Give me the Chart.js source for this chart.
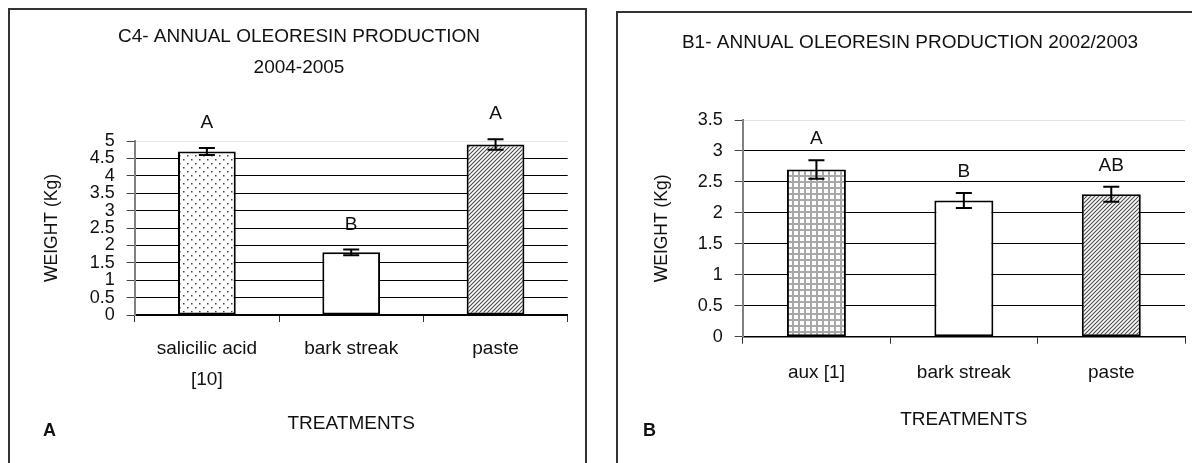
<!DOCTYPE html>
<html><head><meta charset="utf-8">
<script src="https://cdn.jsdelivr.net/npm/chart.js@4"></script>
<style>
html,body{margin:0;padding:0;background:#fff;width:1192px;height:463px;overflow:hidden;font-family:"Liberation Sans",Arial,sans-serif;}
.panel{position:absolute;border:2px solid #333;box-sizing:border-box;}
#pA{left:8px;top:8px;width:579px;height:480px;}
#pB{left:616px;top:11px;width:600px;height:480px;}
canvas{position:absolute;}
#cA{left:10px;top:10px;}
#cB{left:618px;top:13px;}
.lab{position:absolute;font:bold 18px "Liberation Sans",Arial,sans-serif;color:#111;line-height:20px;}
</style></head>
<body>
<div class="panel" id="pA"></div>
<div class="panel" id="pB"></div>
<canvas id="cA" width="574" height="453"></canvas>
<canvas id="cB" width="574" height="450"></canvas>
<div class="lab" style="left:43px;top:420px;">A</div>
<div class="lab" style="left:643px;top:420px;">B</div>
<script>
// ---- Data: panel A (C4, 2004-2005)
const categoriesC4 = [['salicilic acid', '[10]'], 'bark streak', 'paste'];
const valuesC4 = [4.7, 1.8, 4.9];
const errorsC4 = [0.1, 0.08, 0.15];
const lettersC4 = ['A', 'B', 'A'];
const yMaxC4 = 5;
const titleC4 = ['C4- ANNUAL OLEORESIN PRODUCTION', '2004-2005'];

// ---- Data: panel B (B1, 2002/2003)
const categoriesB1 = ['aux [1]', 'bark streak', 'paste'];
const valuesB1 = [2.7, 2.2, 2.3];
const errorsB1 = [0.15, 0.12, 0.12];
const lettersB1 = ['A', 'B', 'AB'];
const yMaxB1 = 3.5;
const titleB1 = 'B1- ANNUAL OLEORESIN PRODUCTION 2002/2003';

const yStep = 0.5;
const yTitle = 'WEIGHT (Kg)';
const xTitle = 'TREATMENTS';

const FAMILY = '"Liberation Sans", Arial, sans-serif';
Chart.defaults.font.family = FAMILY;
Chart.defaults.color = '#111';

function tile(w, h, draw) {
  const c = document.createElement('canvas');
  c.width = w; c.height = h;
  const g = c.getContext('2d');
  g.fillStyle = '#fff'; g.fillRect(0, 0, w, h);
  draw(g);
  return document.createElement('canvas').getContext('2d').createPattern(c, 'repeat');
}
const dots = tile(8, 8, g => { g.fillStyle = '#444'; g.fillRect(1, 1, 1.5, 1.5); g.fillRect(5, 5, 1.5, 1.5); });
const hatch = tile(4, 4, g => {
  g.strokeStyle = '#4a4a4a'; g.lineWidth = 1.1;
  g.beginPath();
  g.moveTo(-1, 5); g.lineTo(5, -1);
  g.moveTo(-1, 1); g.lineTo(1, -1);
  g.moveTo(3, 5); g.lineTo(5, 3);
  g.stroke();
});
const grid = tile(6, 6, g => { g.fillStyle = '#a8a8a8'; g.fillRect(0, 0, 6, 2); g.fillRect(0, 0, 2, 6); });

const errLetters = {
  id: 'errLetters',
  afterDatasetsDraw(chart, args, opts) {
    const ctx = chart.ctx, ys = chart.scales.y;
    const meta = chart.getDatasetMeta(0);
    ctx.save();
    meta.data.forEach((bar, i) => {
      const v = opts.values[i], e = opts.errors[i];
      const yt = ys.getPixelForValue(v + e), yb = ys.getPixelForValue(v - e);
      ctx.strokeStyle = '#000'; ctx.lineWidth = 2;
      ctx.beginPath();
      ctx.moveTo(bar.x, yt); ctx.lineTo(bar.x, yb);
      ctx.moveTo(bar.x - 8, yt); ctx.lineTo(bar.x + 8, yt);
      ctx.moveTo(bar.x - 8, yb); ctx.lineTo(bar.x + 8, yb);
      ctx.stroke();
      ctx.fillStyle = '#111';
      ctx.font = '19px ' + FAMILY;
      ctx.textAlign = 'center'; ctx.textBaseline = 'middle';
      ctx.fillText(opts.letters[i], bar.x, yt - opts.gap);
    });
    ctx.restore();
  }
};

function makeChart(id, L) {
  return new Chart(document.getElementById(id), {
    type: 'bar',
    data: {
      labels: L.categories,
      datasets: [{
        data: L.values,
        backgroundColor: L.fills,
        borderColor: '#000',
        borderWidth: 2,
        borderSkipped: false,
        categoryPercentage: 1,
        barPercentage: 0.4
      }]
    },
    options: {
      responsive: false,
      animation: false,
      events: [],
      layout: { padding: { left: L.padLeft, right: L.padRight, top: 0, bottom: 0 } },
      plugins: {
        legend: { display: false },
        tooltip: { enabled: false },
        title: {
          display: true, text: L.title, color: '#111',
          font: { size: 19, weight: 'normal', lineHeight: L.titleLH + 'px' },
          padding: { top: L.titlePadTop, bottom: L.titlePadBottom }
        },
        errLetters: { values: L.values, errors: L.errors, letters: L.letters, gap: L.gap }
      },
      scales: {
        x: {
          ticks: { color: '#111', font: { size: 19, lineHeight: '31px' }, padding: L.xTickPad, maxRotation: 0, autoSkip: false },
          grid: { drawOnChartArea: false, offset: true, tickLength: 7, color: '#000', tickColor: '#333' },
          border: { color: '#000', width: 1.5 },
          title: { display: true, text: xTitle, color: '#111', font: { size: 19 }, padding: { top: 0, bottom: L.xTitlePad } },
          afterFit: s => { s.height = L.xHeight; }
        },
        y: {
          min: 0, max: L.yMax,
          ticks: { stepSize: yStep, autoSkip: false, color: '#111', font: { size: 18 }, padding: 12, callback: v => String(v) },
          grid: {
            color: c => (c.tick && c.tick.value === L.yMax) ? '#e4e4e4' : '#000',
            tickColor: '#444', tickLength: 8, lineWidth: 1
          },
          border: { color: '#808080', width: 2 },
          title: { display: true, text: yTitle, color: '#111', font: { size: 17.5 }, padding: { top: L.yTitlePad, bottom: 0 } },
          afterFit: s => { s.width = L.yWidth; }
        }
      }
    },
    plugins: [errLetters]
  });
}

makeChart('cA', {
  categories: categoriesC4, values: valuesC4, errors: errorsC4, letters: lettersC4,
  fills: [dots, '#ffffff', hatch], yMax: yMaxC4, title: titleC4,
  titleLH: 31, titlePadTop: 11.5, titlePadBottom: 57.5,
  padLeft: 20.3, padRight: 16.3, yWidth: 104.4, xHeight: 148,
  xTickPad: 11.5, xTitlePad: 28, yTitlePad: 11.7, gap: 25
});
makeChart('cB', {
  categories: categoriesB1, values: valuesB1, errors: errorsB1, letters: lettersB1,
  fills: [grid, '#ffffff', hatch], yMax: yMaxB1, title: titleB1,
  titleLH: 22, titlePadTop: 19, titlePadBottom: 66,
  padLeft: 17, padRight: 7, yWidth: 107.7, xHeight: 126.3,
  xTickPad: 13.8, xTitlePad: 32, yTitlePad: 16.8, gap: 21
});
</script>
</body></html>
